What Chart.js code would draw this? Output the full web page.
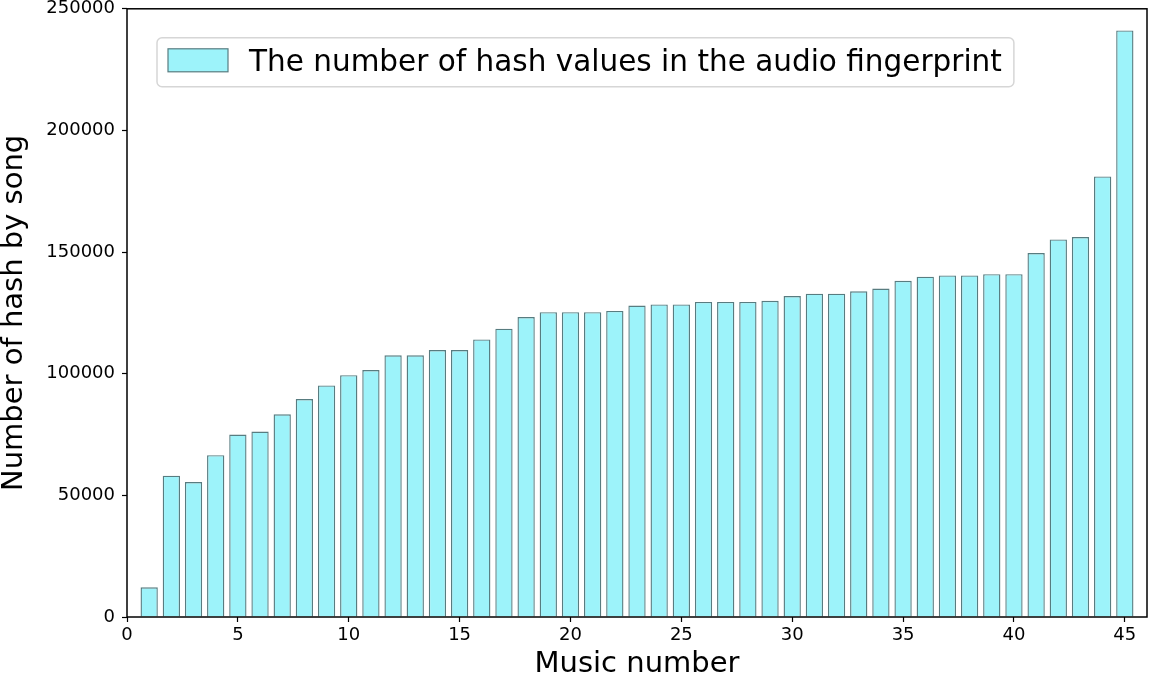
<!DOCTYPE html>
<html>
<head>
<meta charset="utf-8">
<script src="https://cdn.jsdelivr.net/npm/chart.js@4/dist/chart.umd.min.js"></script>
<style>
  html, body { margin: 0; padding: 0; background: #fff; }
  #wrap { width: 1155px; height: 679px; }
</style>
</head>
<body>
<div id="wrap"><canvas id="chart" width="1155" height="679"></canvas></div>
<script>
const musicNumbers = [1, 2, 3, 4, 5, 6, 7, 8, 9, 10, 11, 12, 13, 14, 15, 16, 17, 18, 19, 20, 21, 22, 23,
  24, 25, 26, 27, 28, 29, 30, 31, 32, 33, 34, 35, 36, 37, 38, 39, 40, 41, 42, 43, 44, 45];
const hashCounts = [12200, 58100, 55500, 66500, 75000, 76200, 83300, 89600, 95200, 99400,
  101500, 107600, 107600, 109700, 109700, 114100, 118500, 123300, 125300, 125300,
  125300, 125800, 128000, 128500, 128500, 129500, 129500, 129500, 130000, 131900,
  132900, 132900, 133900, 135000, 138200, 139900, 140400, 140400, 140900, 140900,
  149600, 155200, 156200, 181100, 241100];
const seriesLabel = "The number of hash values in the audio fingerprint";
const xTicks = [0, 5, 10, 15, 20, 25, 30, 35, 40, 45];
const yTicks = [0, 50000, 100000, 150000, 200000, 250000];

const FONT = "'DejaVu Sans', sans-serif";
const barFill = "#9df3fa";
const barEdge = "#587c80";

// frame on all four sides, like matplotlib spines
const framePlugin = {
  id: "frame",
  afterDatasetsDraw(chart) {
    const { ctx, chartArea: a } = chart;
    ctx.save();
    ctx.strokeStyle = "#000";
    ctx.lineWidth = 1.5;
    ctx.strokeRect(a.left, a.top, a.right - a.left, a.bottom - a.top);
    ctx.restore();
  },
};

// legend drawn inside the plot area (upper left)
const innerLegend = {
  id: "innerLegend",
  afterDraw(chart) {
    const { ctx, chartArea: a } = chart;
    const ds = chart.data.datasets[0];
    const x = a.left + 30, y = a.top + 29, h = 49;
    ctx.save();
    ctx.font = "29.5px " + FONT;
    const tw = ctx.measureText(ds.label).width;
    const w = 92 + tw + 12;
    ctx.beginPath();
    ctx.roundRect(x, y, w, h, 5);
    ctx.fillStyle = "rgba(255,255,255,0.85)";
    ctx.fill();
    ctx.strokeStyle = "#d6d6d6";
    ctx.lineWidth = 1.5;
    ctx.stroke();
    ctx.fillStyle = ds.backgroundColor;
    ctx.fillRect(x + 11, y + 11, 60, 23);
    ctx.strokeStyle = ds.borderColor;
    ctx.lineWidth = 1.2;
    ctx.strokeRect(x + 11, y + 11, 60, 23);
    ctx.fillStyle = "#000";
    ctx.textBaseline = "middle";
    ctx.fillText(ds.label, x + 92, y + h / 2 + 1);
    ctx.restore();
  },
};

new Chart(document.getElementById("chart"), {
  type: "bar",
  data: {
    datasets: [
      {
        label: seriesLabel,
        data: musicNumbers.map((n, i) => ({ x: n, y: hashCounts[i] })),
        backgroundColor: barFill,
        borderColor: barEdge,
        borderWidth: 1.4,
        barPercentage: 0.78,
        categoryPercentage: 1,
      },
    ],
  },
  options: {
    responsive: false,
    animation: false,
    devicePixelRatio: 1,
    layout: { padding: { top: 8, right: 8, left: 0, bottom: 0 } },
    plugins: { legend: { display: false }, tooltip: { enabled: false } },
    scales: {
      x: {
        type: "linear",
        min: 0,
        max: 46,
        offset: false,
        afterBuildTicks: (s) => { s.ticks = xTicks.map((v) => ({ value: v })); },
        afterFit: (s) => { s.height = 62; },
        grid: { offset: false, drawOnChartArea: false, tickLength: 5, color: "#000", tickWidth: 1.2 },
        border: { display: false },
        ticks: { color: "#000", font: { family: FONT, size: 18, lineHeight: 1.0 }, padding: 4, maxRotation: 0 },
        title: { display: true, text: "Music number", color: "#000", font: { family: FONT, size: 29, lineHeight: 1.0 }, padding: { top: 0, bottom: 0 } },
      },
      y: {
        min: 0,
        max: 250000,
        afterBuildTicks: (s) => { s.ticks = yTicks.map((v) => ({ value: v })); },
        afterFit: (s) => { s.width = 127; },
        grid: { drawOnChartArea: false, tickLength: 5, color: "#000", tickWidth: 1.2 },
        border: { display: false },
        ticks: { color: "#000", font: { family: FONT, size: 18, lineHeight: 0.2 }, padding: 7, callback: (v) => String(v) },
        title: { display: true, text: "Number of hash by song", color: "#000", font: { family: FONT, size: 29, lineHeight: 1.0 }, padding: { top: 0, bottom: 0 } },
      },
    },
  },
  plugins: [framePlugin, innerLegend],
});
</script>
</body>
</html>
